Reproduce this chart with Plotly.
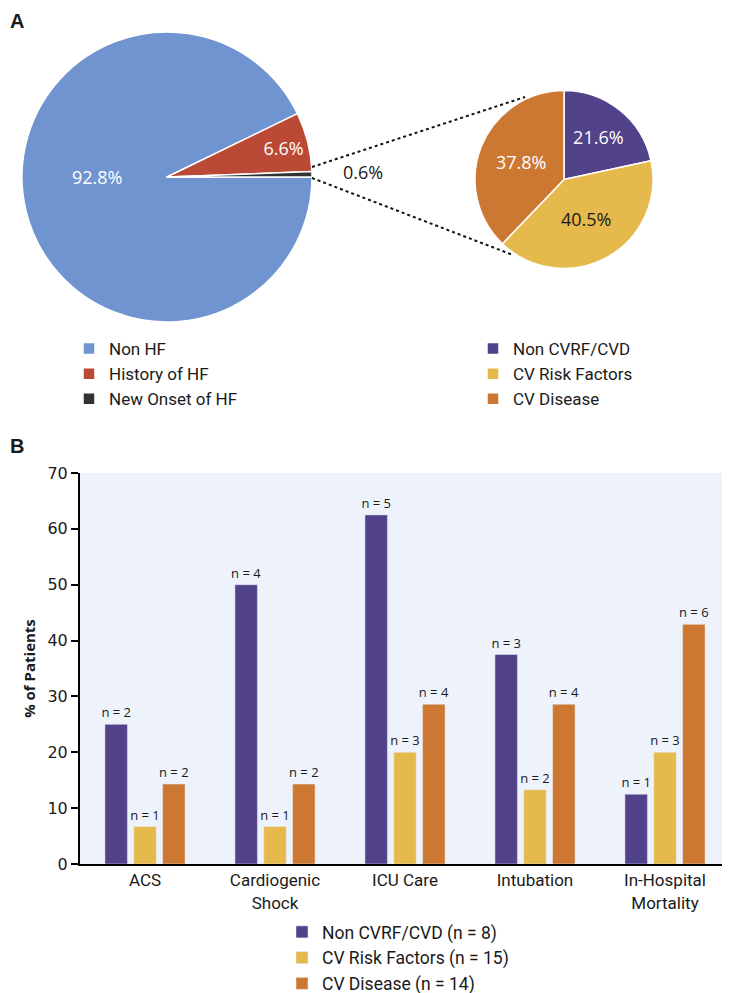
import plotly.graph_objects as go

W, H = 730, 993
OFF = 8  # the page body margin shifts the whole figure by 8px

# Panel A - heart failure status of the whole cohort
hf_labels = ["Non HF", "History of HF", "New Onset of HF"]
hf_share = [92.8, 6.6, 0.6]
hf_colors = ["#6F94CF", "#BA4A36", "#333333"]

# Panel A - breakdown of the new onset HF patients
cv_labels = ["Non CVRF/CVD", "CV Risk Factors", "CV Disease"]
cv_share = [21.6, 40.5, 37.8]
cv_colors = ["#52428A", "#E5B94B", "#CC7832"]

# Panel B - outcomes by group
outcomes = ["ACS", "Cardiogenic<br>Shock", "ICU Care", "Intubation", "In-Hospital<br>Mortality"]
group_names = ["Non CVRF/CVD (n = 8)", "CV Risk Factors (n = 15)", "CV Disease (n = 14)"]
pct_non_cvrf = [25.0, 50.0, 62.5, 37.5, 12.5]
pct_cv_risk = [6.7, 6.7, 20.0, 13.3, 20.0]
pct_cv_disease = [14.3, 14.3, 28.6, 28.6, 42.9]
n_non_cvrf = [2, 4, 5, 3, 1]
n_cv_risk = [1, 1, 3, 2, 3]
n_cv_disease = [2, 2, 4, 4, 6]

SANS = "'Open Sans', 'Noto Sans', sans-serif"
COND = "Roboto, 'Liberation Sans', sans-serif"
TICK = "'DejaVu Sans', sans-serif"
INK = "#1a1a1a"


def px(x):
    return (x - OFF) / W


def py(y):
    return 1 - (y - OFF) / H


fig = go.Figure()

# main pie (the big slice label is placed as an annotation, left of centre)
fig.add_trace(go.Pie(
    labels=hf_labels, values=hf_share, sort=False,
    direction="clockwise", rotation=90,
    marker=dict(colors=hf_colors, line=dict(color="white", width=1.5)),
    texttemplate=["", "%{value:.1f}%", ""],
    textposition="inside", insidetextorientation="horizontal",
    textfont=dict(family=SANS, size=18, color="white"),
    domain=dict(x=[px(22), px(312)], y=[py(322), py(32)]),
    legend="legend", hoverinfo="label+percent",
))

# zoomed pie for new onset HF
fig.add_trace(go.Pie(
    labels=cv_labels, values=cv_share, sort=False,
    direction="clockwise", rotation=0,
    marker=dict(colors=cv_colors, line=dict(color="white", width=1.5)),
    texttemplate="%{value:.1f}%",
    textposition="inside", insidetextorientation="horizontal",
    textfont=dict(family=SANS, size=18, color=["white", INK, "white"]),
    domain=dict(x=[px(475), px(653)], y=[py(269), py(90)]),
    legend="legend2", hoverinfo="label+percent",
))

# grouped bars
for name, vals, ns, col in zip(
    group_names,
    [pct_non_cvrf, pct_cv_risk, pct_cv_disease],
    [n_non_cvrf, n_cv_risk, n_cv_disease],
    cv_colors,
):
    fig.add_trace(go.Bar(
        x=outcomes, y=vals, name=name, marker_color=col,
        text=[f"n = {n}" for n in ns], textposition="outside", constraintext="none",
        textfont=dict(family=SANS, size=13, color=INK),
        cliponaxis=False, legend="legend3",
    ))

# dotted connectors between the two pies
for (x0, y0), (x1, y1) in [((312, 167), (525, 97)), ((312, 178), (513, 255))]:
    fig.add_shape(type="line", xref="paper", yref="paper",
                  x0=px(x0), y0=py(y0), x1=px(x1), y1=py(y1),
                  line=dict(color="#111", width=2, dash="dot"))

annotations = [
    dict(text="<b>A</b>", x=px(OFF), y=py(OFF), xanchor="left", yanchor="top", font=dict(size=20)),
    dict(text="<b>B</b>", x=px(OFF), y=py(446), xanchor="left", font=dict(size=20)),
    dict(text=f"{hf_share[0]:.1f}%", x=px(97), y=py(177), xanchor="center",
         font=dict(family=SANS, size=18, color="white")),
    dict(text=f"{hf_share[2]:.1f}%", x=px(341), y=py(172), xanchor="left",
         font=dict(family=SANS, size=18, color=INK)),
]
for a in annotations:
    a.update(xref="paper", yref="paper", showarrow=False)
    a.setdefault("yanchor", "middle")
    a["font"].setdefault("family", "'Liberation Sans', Arial, sans-serif")
    a["font"].setdefault("color", INK)

legend_style = dict(xanchor="left", yanchor="top", bgcolor="rgba(0,0,0,0)",
                    font=dict(family=COND, size=17, color=INK), itemclick=False)

fig.update_layout(
    width=W, height=H,
    margin=dict(l=0, r=0, t=0, b=0, autoexpand=False),
    paper_bgcolor="white", plot_bgcolor="#EEF2FA",
    barmode="group", bargap=0.335, bargroupgap=0.22,
    xaxis=dict(domain=[px(80), px(730)], showline=True, linecolor="black", linewidth=2,
               ticks="", tickfont=dict(family=COND, size=17, color=INK)),
    yaxis=dict(domain=[py(864), py(473)], range=[0, 70], dtick=10,
               showgrid=False, zeroline=False, showline=True, linecolor="black", linewidth=2,
               ticks="outside", ticklen=7, tickwidth=2, tickcolor="black",
               tickfont=dict(family=TICK, size=16, color=INK),
               title=dict(text="<b>% of Patients</b>", standoff=8,
                          font=dict(family=SANS, size=15, color=INK))),
    legend=dict(x=px(69), y=py(331), **legend_style),
    legend2=dict(x=px(473), y=py(331), **legend_style),
    legend3=dict(x=px(282), y=py(914),
                 **{**legend_style, "font": dict(family=COND, size=17.5, color=INK)}),
    annotations=annotations,
)

fig.write_html("out.html")
